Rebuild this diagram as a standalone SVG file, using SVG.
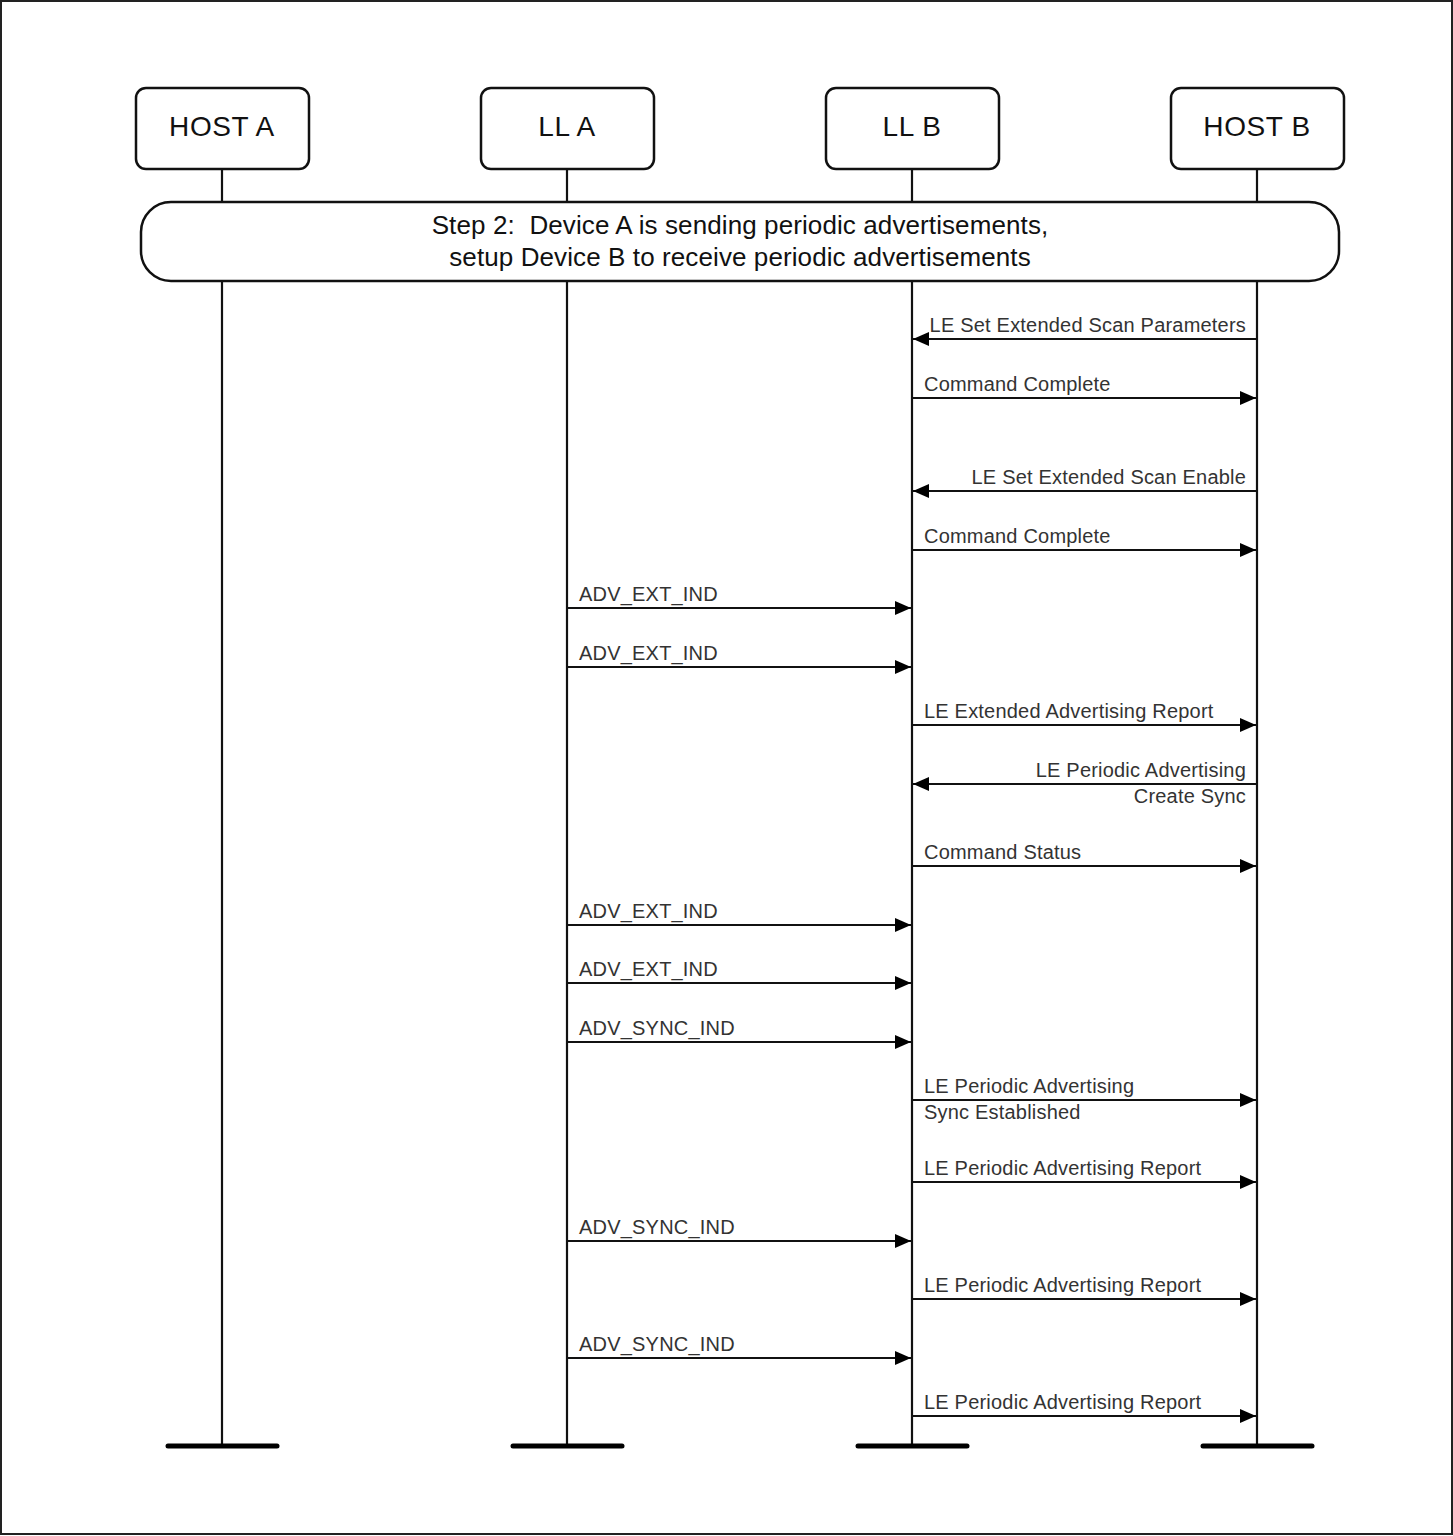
<svg xmlns="http://www.w3.org/2000/svg" width="1453" height="1536" viewBox="0 0 1453 1536">
<style>
.box{fill:#fff;stroke:#111;stroke-width:2.5}
.life{stroke:#111;stroke-width:2.2;fill:none}
.endbar{stroke:#000;stroke-width:5;stroke-linecap:round}
.hdr{font-family:"Liberation Sans",Arial,sans-serif;font-size:28px;letter-spacing:0.6px;fill:#111;text-anchor:middle}
.step{font-family:"Liberation Sans",Arial,sans-serif;font-size:26px;letter-spacing:0.1px;fill:#111;text-anchor:middle}
.lbl{font-family:"Liberation Sans",Arial,sans-serif;font-size:20px;letter-spacing:0.2px;fill:#333}
.end{text-anchor:end}
.msg{stroke:#111;stroke-width:2;fill:none;marker-end:url(#ah)}
</style>
<defs>
<marker id="ah" markerUnits="userSpaceOnUse" markerWidth="18" markerHeight="14" refX="16" refY="7" orient="auto">
<path d="M0,0 L16,7 L0,14 Z" fill="#000"/>
</marker>
</defs>
<rect x="1" y="1" width="1451" height="1533" fill="#fff" stroke="#222" stroke-width="2"/>

<g id="lifelines">
<line class="life" x1="222" y1="169" x2="222" y2="1446"/>
<line class="life" x1="567" y1="169" x2="567" y2="1446"/>
<line class="life" x1="912" y1="169" x2="912" y2="1446"/>
<line class="life" x1="1257" y1="169" x2="1257" y2="1446"/>
<line class="endbar" x1="168" y1="1446" x2="277" y2="1446"/>
<line class="endbar" x1="513" y1="1446" x2="622" y2="1446"/>
<line class="endbar" x1="858" y1="1446" x2="967" y2="1446"/>
<line class="endbar" x1="1203" y1="1446" x2="1312" y2="1446"/>
</g>

<g id="host-a"><rect class="box" x="136" y="88" width="173" height="81" rx="10"/><text class="hdr" x="222" y="136">HOST A</text></g>
<g id="ll-a"><rect class="box" x="481" y="88" width="173" height="81" rx="10"/><text class="hdr" x="567" y="136">LL A</text></g>
<g id="ll-b"><rect class="box" x="826" y="88" width="173" height="81" rx="10"/><text class="hdr" x="912" y="136">LL B</text></g>
<g id="host-b"><rect class="box" x="1171" y="88" width="173" height="81" rx="10"/><text class="hdr" x="1257" y="136">HOST B</text></g>

<g id="step2">
<rect class="box" x="141" y="202" width="1198" height="79" rx="30"/>
<text class="step" x="740" y="234" xml:space="preserve">Step 2:  Device A is sending periodic advertisements,</text>
<text class="step" x="740" y="266">setup Device B to receive periodic advertisements</text>
</g>

<g id="connectors">
<line class="msg" x1="1257" y1="339" x2="913" y2="339"/>
<line class="msg" x1="912" y1="398" x2="1256" y2="398"/>
<line class="msg" x1="1257" y1="491" x2="913" y2="491"/>
<line class="msg" x1="912" y1="550" x2="1256" y2="550"/>
<line class="msg" x1="567" y1="608" x2="911" y2="608"/>
<line class="msg" x1="567" y1="667" x2="911" y2="667"/>
<line class="msg" x1="912" y1="725" x2="1256" y2="725"/>
<line class="msg" x1="1257" y1="784" x2="913" y2="784"/>
<line class="msg" x1="912" y1="866" x2="1256" y2="866"/>
<line class="msg" x1="567" y1="925" x2="911" y2="925"/>
<line class="msg" x1="567" y1="983" x2="911" y2="983"/>
<line class="msg" x1="567" y1="1042" x2="911" y2="1042"/>
<line class="msg" x1="912" y1="1100" x2="1256" y2="1100"/>
<line class="msg" x1="912" y1="1182" x2="1256" y2="1182"/>
<line class="msg" x1="567" y1="1241" x2="911" y2="1241"/>
<line class="msg" x1="912" y1="1299" x2="1256" y2="1299"/>
<line class="msg" x1="567" y1="1358" x2="911" y2="1358"/>
<line class="msg" x1="912" y1="1416" x2="1256" y2="1416"/>
</g>

<g id="labels">
<text class="lbl end" x="1246" y="332">LE Set Extended Scan Parameters</text>
<text class="lbl" x="924" y="391">Command Complete</text>
<text class="lbl end" x="1246" y="484">LE Set Extended Scan Enable</text>
<text class="lbl" x="924" y="543">Command Complete</text>
<text class="lbl" x="579" y="601">ADV_EXT_IND</text>
<text class="lbl" x="579" y="660">ADV_EXT_IND</text>
<text class="lbl" x="924" y="718">LE Extended Advertising Report</text>
<text class="lbl end" x="1246" y="777">LE Periodic Advertising</text>
<text class="lbl end" x="1246" y="803">Create Sync</text>
<text class="lbl" x="924" y="859">Command Status</text>
<text class="lbl" x="579" y="918">ADV_EXT_IND</text>
<text class="lbl" x="579" y="976">ADV_EXT_IND</text>
<text class="lbl" x="579" y="1035">ADV_SYNC_IND</text>
<text class="lbl" x="924" y="1093">LE Periodic Advertising</text>
<text class="lbl" x="924" y="1119">Sync Established</text>
<text class="lbl" x="924" y="1175">LE Periodic Advertising Report</text>
<text class="lbl" x="579" y="1234">ADV_SYNC_IND</text>
<text class="lbl" x="924" y="1292">LE Periodic Advertising Report</text>
<text class="lbl" x="579" y="1351">ADV_SYNC_IND</text>
<text class="lbl" x="924" y="1409">LE Periodic Advertising Report</text>
</g>
</svg>
